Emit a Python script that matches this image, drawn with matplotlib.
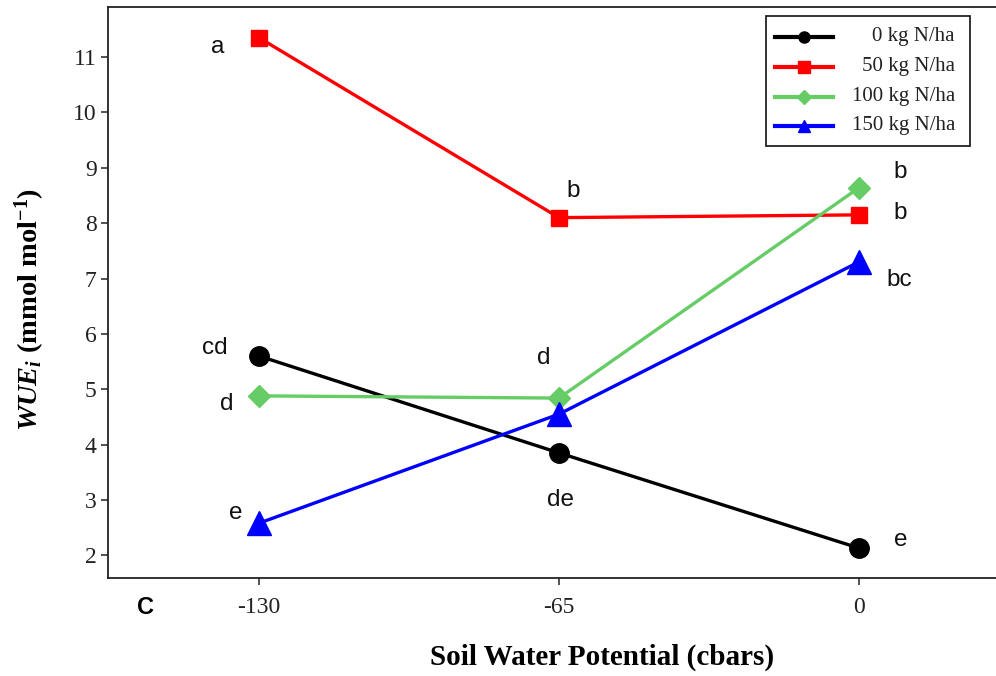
import matplotlib
matplotlib.use("Agg")
import matplotlib.pyplot as plt
from matplotlib.lines import Line2D
from matplotlib.patches import Rectangle

# Soil water potential levels (cbars)
potential = [-130, -65, 0]
xtick_labels = ["-130", "-65", "0"]
yticks = [2, 3, 4, 5, 6, 7, 8, 9, 10, 11]

# WUEi (mmol mol-1) for each nitrogen rate
wue_0 = [5.60, 3.85, 2.13]
wue_50 = [11.35, 8.10, 8.15]
wue_100 = [4.88, 4.84, 8.64]
wue_150 = [2.58, 4.55, 7.30]

# Mean-separation letters per point
letters_0 = ["cd", "de", "e"]
letters_50 = ["a", "b", "b"]
letters_100 = ["d", "d", "b"]
letters_150 = ["e", "", "bc"]

series_names = ["0 kg N/ha", "50 kg N/ha", "100 kg N/ha", "150 kg N/ha"]

plt.rcParams["mathtext.fontset"] = "custom"
plt.rcParams["mathtext.it"] = "Liberation Serif:italic:bold"
plt.rcParams["mathtext.rm"] = "Liberation Serif:bold"
plt.rcParams["mathtext.bf"] = "Liberation Serif:bold"

fig = plt.figure(figsize=(9.96, 6.76), dpi=100)
ax = fig.add_axes([0.1081, 0.1450, 0.8919, 0.8442])

styles = [
    dict(color="black", marker="o", ms=14),
    dict(color="#ff0000", marker="s", ms=11.5),
    dict(color="#66cc66", marker="D", ms=11.5),
    dict(color="#0000ff", marker="^", ms=17),
]
all_series = [wue_0, wue_50, wue_100, wue_150]

for vals, st in zip(all_series, styles):
    ax.plot(potential, vals, color=st["color"], lw=2.4, marker=st["marker"],
            ms=st["ms"], mec=st["color"], mfc=st["color"], zorder=3)

# letter annotations (offsets in points from each mark)
letter_font = dict(family="Liberation Sans", size=17.5, color="#111111",
                   ha="center", va="center")
offsets_0 = [(-32, 6), (1, -34), (30, 6)]
offsets_50 = [(-30, -7), (10, 19), (30, 1)]
offsets_100 = [(-23, -6), (-11, 29), (30, 11)]
offsets_150 = [(-17, 7), (0, 0), (29, -13)]
for vals, labs, offs in [(wue_0, letters_0, offsets_0),
                         (wue_50, letters_50, offsets_50),
                         (wue_100, letters_100, offsets_100),
                         (wue_150, letters_150, offsets_150)]:
    for xv, yv, lab, off in zip(potential, vals, labs, offs):
        if lab:
            ax.annotate(lab, (xv, yv), xytext=off, textcoords="offset points",
                        **letter_font)

ax.set_xlim(-162.8, 29.7)
ax.set_ylim(1.59, 11.90)
ax.set_xticks(potential)
ax.set_xticklabels(xtick_labels)
ax.set_yticks(yticks)
ax.set_yticklabels([str(v) for v in yticks])

for lab in ax.get_xticklabels() + ax.get_yticklabels():
    lab.set_fontfamily("Liberation Serif")
    lab.set_fontsize(17)
    lab.set_color("#222222")

ax.tick_params(axis="both", direction="out", length=5, width=1.1, color="#222222")
ax.tick_params(axis="x", pad=9)
ax.tick_params(axis="y", pad=3)

for side in ["left", "top", "bottom"]:
    ax.spines[side].set_linewidth(1.3)
    ax.spines[side].set_color("#222222")
ax.spines["right"].set_visible(False)

ax.set_xlabel("Soil Water Potential (cbars)", family="Liberation Serif",
              fontweight="bold", fontsize=21, va="center")
ax.xaxis.set_label_coords(0.556, -0.1384)
ax.set_ylabel(r"$WUE_i$ (mmol mol$^{-1}$)", family="Liberation Serif",
              fontweight="bold", fontsize=20.5, va="center")
ax.yaxis.set_label_coords(-0.0875, 0.47)

fig.text(145 / 996, 1 - 607 / 676, "C", family="Liberation Sans",
         fontweight="bold", fontsize=17, ha="center", va="center")

# legend box drawn in axes-fraction coordinates
def px_to_ax(px, py):
    x0, y0 = 107.7, 578.0
    w, h = 996 - 107.7, 578.0 - 7.3
    return (px - x0) / w, (y0 - py) / h

bx0, by0 = px_to_ax(766, 146)
bx1, by1 = px_to_ax(970, 16)
ax.add_patch(Rectangle((bx0, by0), bx1 - bx0, by1 - by0, transform=ax.transAxes,
                       facecolor="white", edgecolor="#222222", lw=1.3, zorder=5))
legend_ms = [8, 8.5, 7, 8]
row_y = [37, 67, 97, 126]
for name, st, ms, ry in zip(series_names, styles, legend_ms, row_y):
    lx0, ly = px_to_ax(775, ry)
    lx1, _ = px_to_ax(833, ry)
    mx, _ = px_to_ax(804, ry)
    ax.add_line(Line2D([lx0, lx1], [ly, ly], transform=ax.transAxes,
                       color=st["color"], lw=3, zorder=6))
    ax.add_line(Line2D([mx], [ly], transform=ax.transAxes, color=st["color"],
                       marker=st["marker"], ms=ms, mec=st["color"],
                       mfc=st["color"], zorder=7))
    tx, _ = px_to_ax(955, ry)
    ax.text(tx, ly, name, transform=ax.transAxes, family="Liberation Serif",
            fontsize=15, ha="right", va="center", color="#222222", zorder=7)

fig.savefig("out.png", dpi=100)
